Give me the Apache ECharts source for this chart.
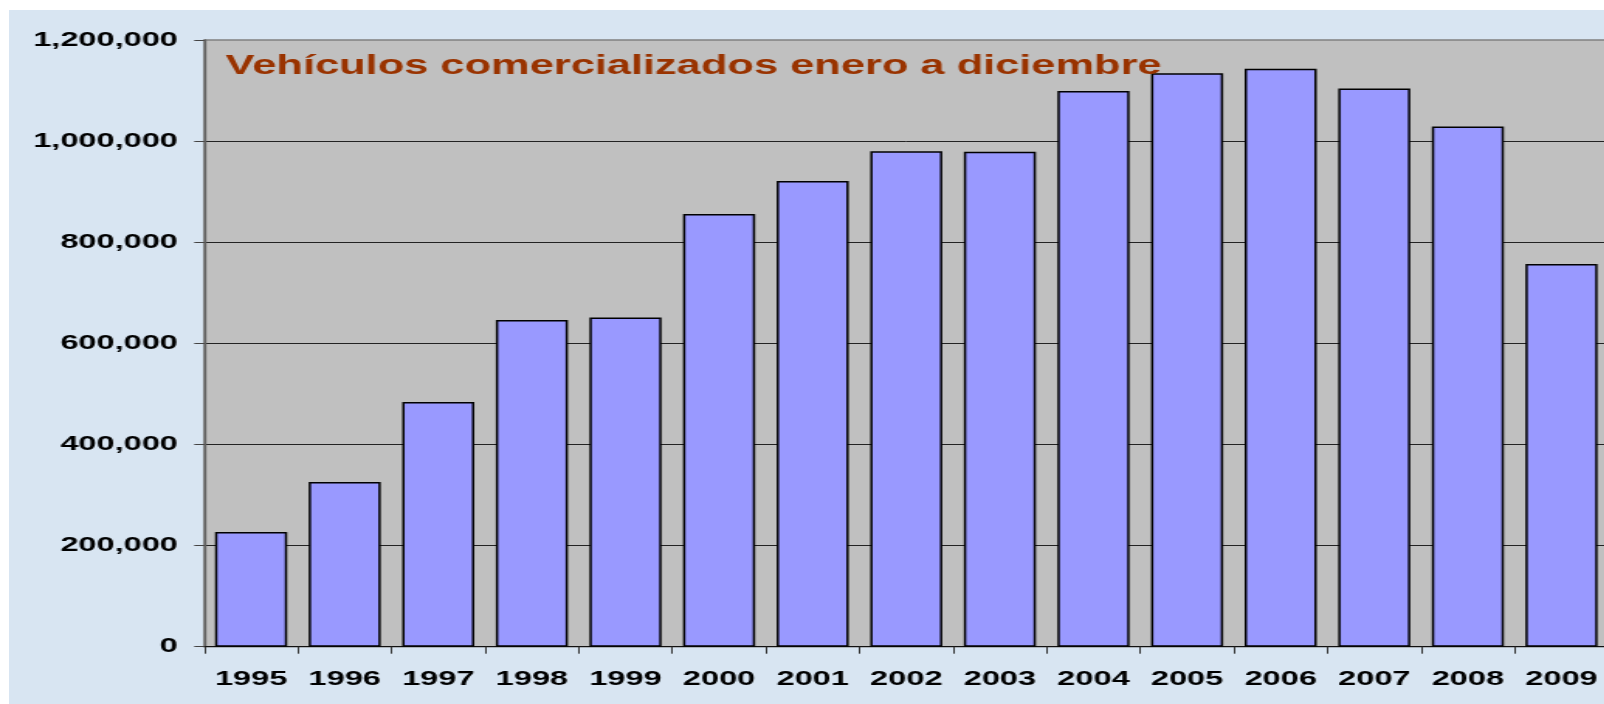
<!DOCTYPE html>
<html>
<head>
<meta charset="utf-8">
<script src="https://cdn.jsdelivr.net/npm/echarts@6/dist/echarts.min.js"></script>
<style>
    html, body { margin: 0; padding: 0; background: #fff; }
    #frame {
        position: absolute; left: 0; top: 0; width: 1604px; height: 704px;
        overflow: hidden; background: #fff;
    }
    #paper {
        position: absolute; left: 9px; top: 10px; right: 0; bottom: 0;
        background: #d8e5f2;
    }
    /* the original picture is stretched sideways, so the chart is drawn narrow and scaled */
    #chart {
        position: absolute; left: 0; top: 0; width: 1040px; height: 704px;
        transform: scaleX(1.55); transform-origin: 0 0;
    }
</style>
</head>
<body>
<div id="frame">
    <div id="paper"></div>
    <div id="chart"></div>
</div>
<script>
    const years = ['1995', '1996', '1997', '1998', '1999', '2000', '2001', '2002',
        '2003', '2004', '2005', '2006', '2007', '2008', '2009'];
    const vehiculos = [227000, 326000, 484000, 646000, 651000, 856000, 921000, 980000,
        979000, 1099000, 1134000, 1143000, 1104000, 1029000, 757000];
    const yTicks = [0, 200000, 400000, 600000, 800000, 1000000, 1200000];

    let myChart = echarts.init(document.getElementById('chart'));

    const fontFam = '"Liberation Sans", Arial, sans-serif';

    let option = {
        animation: false,
        title: {
            text: 'Vehículos comercializados enero a diciembre',
            left: 145.6,
            top: 52,
            padding: 0,
            textStyle: {
                color: '#993300',
                fontSize: 28,
                fontWeight: 'bold',
                fontFamily: fontFam
            }
        },
        grid: {
            left: 131.8,
            top: 40,
            width: 905.8,
            height: 606.7,
            show: true,
            backgroundColor: '#c0c0c0',
            borderColor: '#808080',
            borderWidth: 1.5
        },
        xAxis: {
            type: 'category',
            data: years,
            axisLine: { lineStyle: { color: '#111', width: 1 } },
            axisTick: { show: true, length: 7, lineStyle: { color: '#333' } },
            axisLabel: {
                interval: 0,
                margin: 22,
                color: '#000',
                fontSize: 21,
                fontWeight: 'bold',
                fontFamily: fontFam
            }
        },
        yAxis: {
            type: 'value',
            min: yTicks[0],
            max: yTicks[yTicks.length - 1],
            interval: yTicks[1] - yTicks[0],
            axisLine: { show: true, lineStyle: { color: '#606060', width: 1.3 } },
            axisTick: { show: true, length: 6.5, lineStyle: { color: '#444' } },
            splitLine: {
                show: true,
                showMaxLine: false,
                lineStyle: { color: '#222', width: 1 }
            },
            axisLabel: {
                margin: 17,
                color: '#000',
                fontSize: 21,
                fontWeight: 'bold',
                fontFamily: fontFam,
                formatter: (v) => v.toLocaleString('en-US')
            }
        },
        series: [
            {
                name: 'Vehículos',
                type: 'bar',
                data: vehiculos,
                barCategoryGap: '23%',
                itemStyle: {
                    color: '#9999ff',
                    borderColor: '#000',
                    borderWidth: 1.5
                }
            }
        ]
    };

    myChart.setOption(option);
</script>
</body>
</html>
